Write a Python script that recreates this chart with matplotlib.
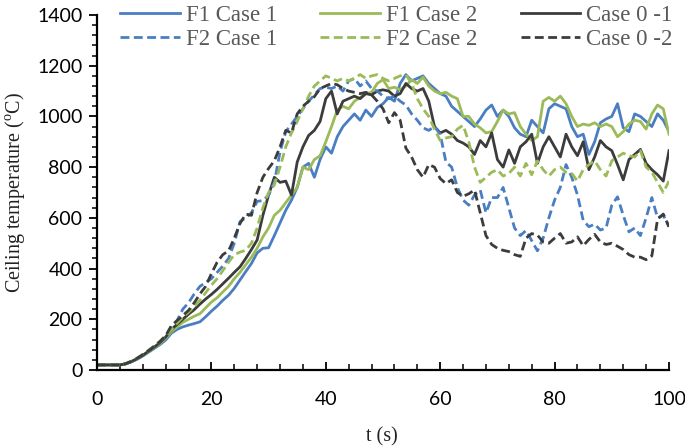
import matplotlib

matplotlib.use("Agg")
import matplotlib.pyplot as plt  # noqa: E402
from matplotlib.ticker import MultipleLocator  # noqa: E402

# ---- data (1 s steps, t = 0..100) ----
TIME = list(range(0, 101))

F1_CASE1 = [
    20, 20, 20, 20, 20, 24, 32, 42, 55, 70,
    85, 100, 118, 145, 160, 170, 177, 183, 190, 210,
    232, 252, 275, 295, 322, 355, 388, 420, 462, 480,
    482, 530, 580, 630, 670, 720, 800, 815, 760, 830,
    880, 855, 920, 960, 985, 1010, 985, 1025, 1000, 1035,
    1050, 1075, 1060, 1130, 1165, 1140, 1150, 1160, 1130, 1110,
    1090, 1080, 1040, 1020, 1000, 980, 960, 990, 1025, 1045,
    1000, 1025, 1000, 955, 930, 920, 985, 960, 935, 1030,
    1050, 1040, 1030, 960, 920, 930, 850, 900, 975, 990,
    1000, 1050, 955, 940, 1010, 1000, 980, 960, 1010, 985,
    940,
]
F1_CASE2 = [
    20, 20, 20, 20, 20, 24, 33, 44, 57, 72,
    88, 104, 125, 152, 170, 188, 200, 212, 222, 245,
    268, 285, 308, 330, 360, 385, 415, 445, 480, 525,
    560, 610, 630, 660, 690, 720, 800, 790, 830, 845,
    900, 960, 1025, 1040, 1030, 1060, 1075, 1090, 1095, 1130,
    1145, 1110, 1115, 1105, 1120, 1145, 1130, 1155, 1120, 1100,
    1090, 1095, 1080, 1070, 1000, 1000, 970, 955, 935, 940,
    980, 1025, 1010, 1015, 960, 930, 905, 920, 1060, 1075,
    1060, 1080, 1050, 1000, 960, 970, 965, 975, 960, 970,
    960, 920, 940, 970, 985, 980, 950, 1010, 1045, 1030,
    930,
]
CASE0_1 = [
    20, 20, 20, 20, 20, 24, 33, 45, 58, 74,
    90, 108, 130, 160, 180, 200, 220, 238, 260, 280,
    298, 318, 340, 362, 385, 407, 440, 475, 513, 610,
    690, 760, 740, 745, 690, 820, 880, 925, 945, 980,
    1070, 1100, 1010, 1060, 1070, 1080, 1070, 1090, 1085, 1100,
    1105, 1100, 1080, 1090, 1130, 1110, 1100, 1110, 1060, 960,
    935, 945, 930, 905, 895, 880, 850, 905, 880, 935,
    830, 800, 868, 815, 880, 900, 930, 815, 880, 920,
    880, 840, 930, 880, 845, 900, 790, 840, 905, 880,
    865, 810, 750, 830, 850, 870, 815, 790, 770, 745,
    865,
]
F2_CASE1 = [
    20, 20, 20, 20, 20, 25, 34, 46, 60, 76,
    93, 112, 135, 162, 195, 240, 265, 300, 330, 345,
    360, 385, 410, 440, 500, 585, 600, 620, 665, 668,
    690, 740, 860, 940, 970, 1000, 1030, 1060, 1085, 1110,
    1115, 1110, 1120, 1100, 1140, 1150, 1120, 1140, 1110, 1100,
    1080, 1070, 1080, 1060, 1045, 1010, 985, 955, 945, 960,
    930, 820, 800, 720, 670, 650, 690, 710, 620, 680,
    680, 720, 640, 560, 530, 550, 510, 470, 520, 600,
    670, 720, 810, 760, 690, 590, 565, 575, 552, 560,
    650, 683, 610, 545, 560, 530, 600, 680, 600, 610,
    565,
]
F2_CASE2 = [
    20, 20, 20, 20, 20, 25, 35, 47, 62, 78,
    95, 113, 133, 160, 185, 208, 228, 250, 275, 305,
    335, 360, 392, 425, 455, 465, 472, 500, 560, 640,
    700, 730, 800, 880, 935, 980, 1030, 1080, 1120, 1140,
    1160, 1150, 1140, 1150, 1140, 1150, 1165, 1150, 1160, 1165,
    1150, 1140, 1150, 1160, 1165, 1130, 1070, 1030, 1000, 950,
    905, 915, 920, 950, 965, 900, 800, 740, 760, 780,
    790, 765, 775, 800, 765, 815, 770, 825, 790, 765,
    790, 800, 780, 775, 745, 790, 810, 825, 790, 765,
    825, 840, 855, 845, 840, 865, 800, 780, 740, 700,
    745,
]
CASE0_2 = [
    20, 20, 20, 20, 20, 25, 34, 46, 60, 76,
    93, 112, 135, 175, 195, 215, 235, 265, 300, 330,
    380, 425, 455, 470, 520, 578, 615, 610, 700, 760,
    795, 825, 880, 945, 935, 1010, 1040, 1060, 1078, 1110,
    1120, 1130, 1125, 1110, 1100, 1095, 1090, 1095, 1085, 1060,
    1030, 975, 1015, 985, 875, 840, 790, 760, 810, 800,
    755, 735, 750, 700, 685, 695, 710, 620, 530, 495,
    480, 472, 467, 455, 448, 520, 538, 532, 505, 500,
    520, 538, 500, 505, 525, 490, 515, 535, 505, 495,
    500, 488, 475, 455, 445, 445, 435, 450, 595, 615,
    565,
]

LABELS = ["F1 Case 1", "F1 Case 2", "Case 0 -1", "F2 Case 1", "F2 Case 2", "Case 0 -2"]

BLUE, GREEN, DARK = "#4a7ec2", "#9bbb59", "#3c3c3c"
SERIF = "Liberation Serif"
DASH = (0, (3.2, 1.6))


def main():
    fig = plt.figure(figsize=(6.85, 4.48), dpi=100)
    ax = fig.add_axes([97 / 685, 78 / 448, 572 / 685, 355 / 448])

    series = [
        (F1_CASE1, BLUE, "-"), (F1_CASE2, GREEN, "-"), (CASE0_1, DARK, "-"),
        (F2_CASE1, BLUE, DASH), (F2_CASE2, GREEN, DASH), (CASE0_2, DARK, DASH),
    ]
    handles = []
    for (vals, col, ls), lab in zip(series, LABELS):
        (ln,) = ax.plot(TIME, vals, color=col, lw=2.0, ls=ls, label=lab,
                        solid_joinstyle="round", dash_capstyle="butt")
        handles.append(ln)

    ax.set_xlim(0, 100)
    ax.set_ylim(0, 1400)
    for s in ("top", "right"):
        ax.spines[s].set_visible(False)
    for s in ("left", "bottom"):
        ax.spines[s].set_linewidth(1.6)
        ax.spines[s].set_color("black")

    ax.xaxis.set_major_locator(MultipleLocator(20))
    ax.xaxis.set_minor_locator(MultipleLocator(4))
    ax.yaxis.set_major_locator(MultipleLocator(200))
    ax.yaxis.set_minor_locator(MultipleLocator(40))
    ax.tick_params(axis="x", which="major", direction="in", length=6, width=1.3, pad=15)
    ax.tick_params(axis="x", which="minor", direction="in", length=4, width=1.1)
    ax.tick_params(axis="y", which="major", direction="out", length=5.5, width=1.3, pad=5)
    ax.tick_params(axis="y", which="minor", direction="out", length=3.5, width=1.1)
    for lbl in ax.get_xticklabels() + ax.get_yticklabels():
        lbl.set_fontfamily("Lato")
        lbl.set_fontsize(14)
        lbl.set_color("black")

    fig.text(15 / 685, 1 - 192 / 448, "Ceiling temperature ($^\\mathregular{o}$C)", rotation=90,
             ha="center", va="center", fontsize=14.5, family=SERIF, color="#222222")
    fig.text(382 / 685, 1 - 437 / 448, "t (s)", ha="center", va="center",
             fontsize=14.5, family=SERIF, color="#222222")

    order = [0, 3, 1, 4, 2, 5]
    fig.legend([handles[i] for i in order], [LABELS[i] for i in order], ncol=3,
               loc="upper left", bbox_to_anchor=(120 / 685, 0.99), frameon=False,
               prop={"family": SERIF, "size": 16.5}, labelcolor="#595959",
               handlelength=2.6, handletextpad=0.26, columnspacing=1.9,
               labelspacing=0.17, borderaxespad=0, borderpad=0)

    fig.savefig("out.png", dpi=100, facecolor="white")
    plt.close(fig)


if __name__ == "__main__":
    main()
